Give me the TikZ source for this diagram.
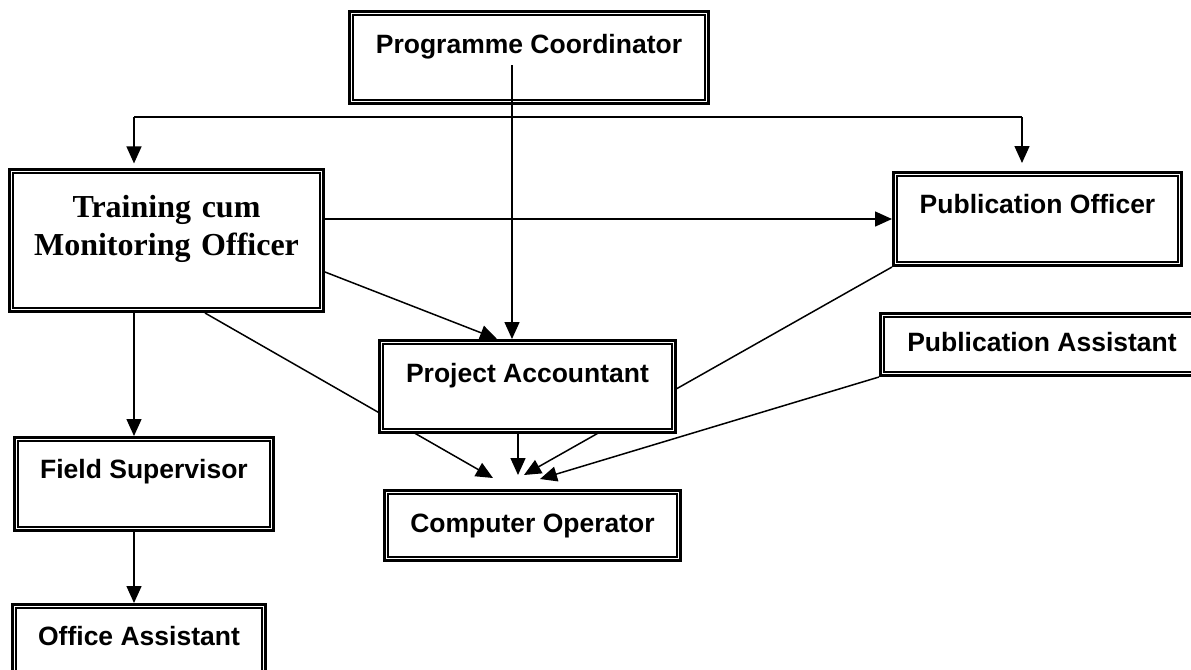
\documentclass[tikz,border=0pt]{standalone}
\usepackage{fontspec}
\setmainfont{Liberation Sans}
\newfontfamily\serifbold{Liberation Serif}
\usetikzlibrary{arrows.meta,calc}
\begin{document}
\begin{tikzpicture}[x=0.5pt, y=-0.5pt,
		post/.style={draw, line width=1.6pt, fill=white, inner sep=0pt, anchor=base, font=\fontsize{13.25pt}{16pt}\selectfont\bfseries},
		link/.style={line width=0.75pt},
		arr/.style={link, -{Triangle[length=8.5pt, width=7.5pt]}}]
			\useasboundingbox (0,0) rectangle (1191,670);
			\node[post, minimum width=179.4pt, text height=20.7pt, text depth=25.2pt] (pc) at (529,53) {Programme Coordinator};
			\node[post, text width=156.9pt, align=center, text height=23.7pt, text depth=47.2pt, font=\fontsize{16pt}{19pt}\selectfont\serifbold\bfseries] (tmo) at (166.5,217) {Training cum\\Monitoring Officer};
			\node[post, minimum width=143.9pt, text height=20.2pt, text depth=26.2pt] (po) at (1037.5,213) {Publication Officer};
			\node[post, minimum width=161.4pt, text height=18.7pt, text depth=12.2pt] (pa) at (1042,351) {Publication Assistant};
			\node[post, minimum width=129.4pt, text height=20.2pt, text depth=26.2pt] (fs) at (144,478) {Field Supervisor};
			\node[post, minimum width=126.4pt, text height=20.2pt, text depth=17.5pt] (oa) at (139,645) {Office Assistant};
			\node[post, minimum width=147.9pt, text height=20.7pt, text depth=14.2pt] (co) at (532.5,532) {Computer Operator};
			\coordinate (pcfoot) at (512,65);
			\coordinate (busL) at (134,117);
			\coordinate (busR) at (1022,117);
			\coordinate (toA) at (493,478);
			\coordinate (toB) at (518,475);
			\coordinate (toC) at (524,475);
			\coordinate (toD) at (540,479);
			\draw[arr] ([xshift=19.25pt]tmo.south) -- (toA);
			\draw[arr] (po.south west) -- (toC);
			\node[post, minimum width=147.9pt, text height=20.7pt, text depth=25.2pt] (acc) at (527.5,382) {Project Accountant};
			\foreach \n in {pc,tmo,po,pa,fs,oa,co,acc}
				\draw[line width=1pt] ([shift={(2.5pt,-2.5pt)}]\n.north west) rectangle ([shift={(-2.5pt,2.5pt)}]\n.south east);
			\draw[link] (busL) -- (busR);
			\draw[arr] (busL) -- ($(busL |- tmo.north)+(0,-4.6)$);
			\draw[arr] (busR) -- ($(busR |- po.north)+(0,-8)$);
			\draw[arr] (pcfoot) -- (pcfoot |- acc.north);
			\draw[arr] (tmo.east |- po.west) -- (po.west);
			\draw[arr] ([yshift=-15.75pt]tmo.east) -- ([xshift=-15.25pt]acc.north);
			\draw[arr] (busL |- tmo.south) -- (busL |- fs.north);
			\draw[arr] (busL |- fs.south) -- (busL |- oa.north);
			\draw[arr] (acc.south -| toB) -- (toB);
			\draw[arr] (pa.south west) -- (toD);
		\end{tikzpicture}
\end{document}
